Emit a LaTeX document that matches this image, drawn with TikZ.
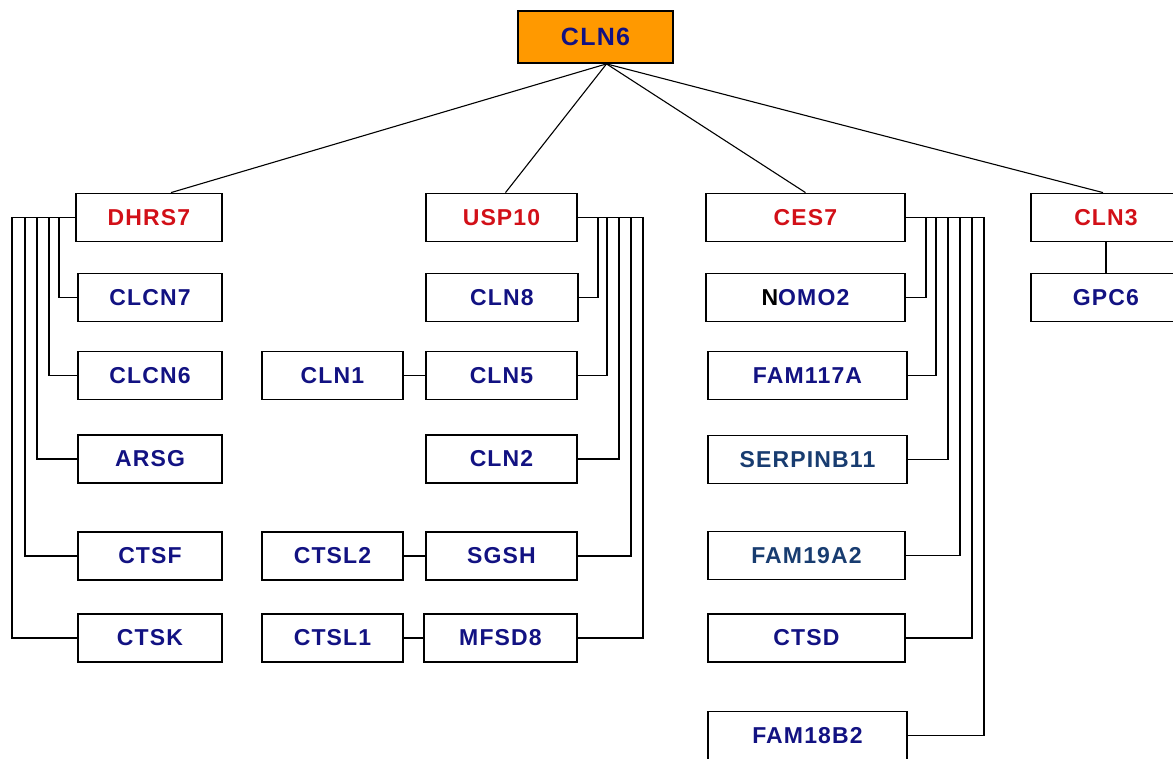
\documentclass[tikz,border=0pt]{standalone}
\usepackage{fontspec}
\setmainfont{Liberation Sans}
\newfontfamily\genefont[LetterSpace=5]{Liberation Sans}
\usetikzlibrary{calc}

\definecolor{geneRed}{RGB}{210,16,24}
\definecolor{geneBlue}{RGB}{18,18,130}
\definecolor{geneSteel}{RGB}{24,60,112}
\definecolor{rootOrange}{RGB}{255,153,0}

\tikzset{
    gene/.style={draw, line width=1.8pt, minimum height=48pt, inner sep=0pt,
        font=\genefont\fontsize{23}{23}\selectfont\bfseries, text=geneBlue},
    parent/.style={gene, text=geneRed},
    bus/.style={line width=1.6pt},
    spoke/.style={line width=1.1pt}
}

\begin{document}
\begin{tikzpicture}[x=1pt, y=-1pt]
    \useasboundingbox (0,0) rectangle (1173,759);

    % root
    \node [gene, fill=rootOrange, minimum width=155pt, minimum height=52pt,
        font=\genefont\fontsize{25}{25}\selectfont\bfseries] (cln6) at (595.5,37) {CLN6};

    % first column
    \node [parent, minimum width=146pt] (dhrs7) at (149,217.5) {DHRS7};
    \node [gene, minimum width=144pt] (clcn7) at (150,297.5) {CLCN7};
    \node [gene, minimum width=144pt] (clcn6) at (150,375.5) {CLCN6};
    \node [gene, minimum width=144pt] (arsg) at (150,459) {ARSG};
    \node [gene, minimum width=144pt] (ctsf) at (150,556) {CTSF};
    \node [gene, minimum width=144pt] (ctsk) at (150,638) {CTSK};

    % second column
    \node [parent, minimum width=151pt] (usp10) at (501.5,217.5) {USP10};
    \node [gene, minimum width=152pt] (cln8) at (502,297.5) {CLN8};
    \node [gene, minimum width=151pt] (cln5) at (501.5,375.5) {CLN5};
    \node [gene, minimum width=151pt] (cln2) at (501.5,459) {CLN2};
    \node [gene, minimum width=151pt] (sgsh) at (501.5,556) {SGSH};
    \node [gene, minimum width=153pt] (mfsd8) at (500.5,638) {MFSD8};
    \node [gene, minimum width=141pt] (cln1) at (332.5,375.5) {CLN1};
    \node [gene, minimum width=141pt] (ctsl2) at (332.5,556) {CTSL2};
    \node [gene, minimum width=141pt] (ctsl1) at (332.5,638) {CTSL1};

    % third column
    \node [parent, minimum width=199pt] (ces7) at (805.5,217.5) {CES7};
    \node [gene, minimum width=199pt] (nomo2) at (805.5,297.5) {\textcolor{black}{N}OMO2};
    \node [gene, minimum width=199pt] (fam117a) at (807.5,375.5) {FAM117A};
    \node [gene, minimum width=199pt, text=geneSteel] (serpinb11) at (807.5,459.5) {SERPINB11};
    \node [gene, minimum width=197pt, text=geneSteel] (fam19a2) at (806.5,555.5) {FAM19A2};
    \node [gene, minimum width=197pt] (ctsd) at (806.5,638) {CTSD};
    \node [gene, minimum width=199pt] (fam18b2) at (807.5,735.5) {FAM18B2};

    % fourth column
    \node [parent, minimum width=150pt] (cln3) at (1106,217.5) {CLN3};
    \node [gene, minimum width=150pt] (gpc6) at (1106,297.5) {GPC6};

    % root spokes
    \draw [spoke] ([xshift=11pt]cln6.south) -- ([xshift=22pt]dhrs7.north);
    \draw [spoke] ([xshift=11pt]cln6.south) -- ([xshift=4pt]usp10.north);
    \draw [spoke] ([xshift=11pt]cln6.south) -- (ces7.north);
    \draw [spoke] ([xshift=11pt]cln6.south) -- ([xshift=-3pt]cln3.north);

    % DHRS7 bus
    \draw [bus] (dhrs7.west) -- ++(-16,0) |- (clcn7.west);
    \draw [bus] (dhrs7.west) -- ++(-26,0) |- (clcn6.west);
    \draw [bus] (dhrs7.west) -- ++(-38,0) |- (arsg.west);
    \draw [bus] (dhrs7.west) -- ++(-50,0) |- (ctsf.west);
    \draw [bus] (dhrs7.west) -- ++(-63,0) |- (ctsk.west);

    % USP10 bus
    \draw [bus] (usp10.east) -- ++(20,0) |- (cln8.east);
    \draw [bus] (usp10.east) -- ++(29,0) |- (cln5.east);
    \draw [bus] (usp10.east) -- ++(41,0) |- (cln2.east);
    \draw [bus] (usp10.east) -- ++(53,0) |- (sgsh.east);
    \draw [bus] (usp10.east) -- ++(65,0) |- (mfsd8.east);
    \draw [bus] (cln1) -- (cln5);
    \draw [bus] (ctsl2) -- (sgsh);
    \draw [bus] (ctsl1) -- (mfsd8);

    % CES7 bus
    \draw [bus] (ces7.east) -- ++(20,0) |- (nomo2.east);
    \draw [bus] (ces7.east) -- ++(30,0) |- (fam117a.east);
    \draw [bus] (ces7.east) -- ++(42,0) |- (serpinb11.east);
    \draw [bus] (ces7.east) -- ++(54,0) |- (fam19a2.east);
    \draw [bus] (ces7.east) -- ++(66,0) |- (ctsd.east);
    \draw [bus] (ces7.east) -- ++(78,0) |- (fam18b2.east);

    % CLN3
    \draw [bus] (cln3) -- (gpc6);
\end{tikzpicture}
\end{document}
